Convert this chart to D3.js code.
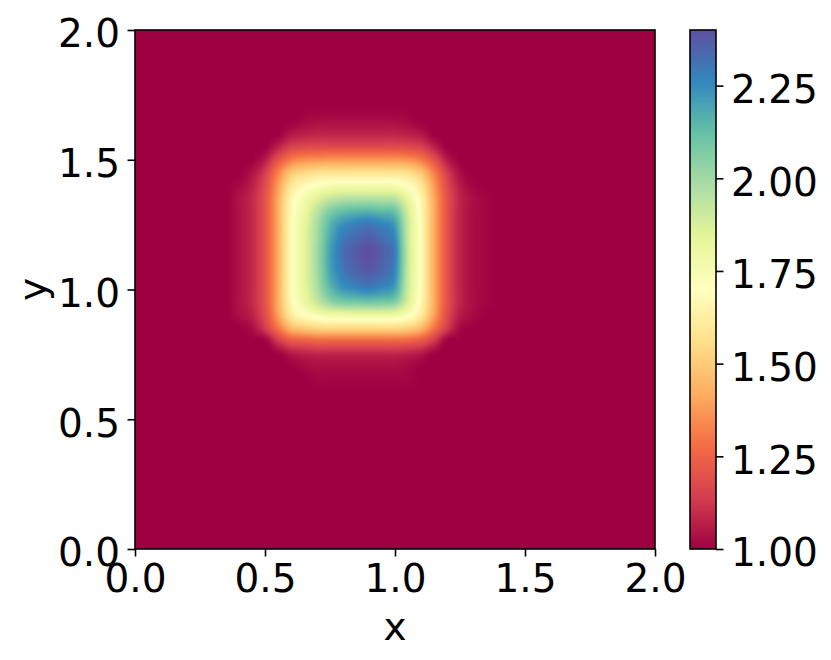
<!DOCTYPE html>
<html><head><meta charset="utf-8">
<script src="https://cdn.jsdelivr.net/npm/d3@7"></script>
<style>body{margin:0;background:#fff} svg text{font-family:"DejaVu Sans";}</style>
</head><body><svg id="chart" width="831" height="660"></svg>
<script>
// grid coordinates (data units) of the sampled field
const xGrid = [0.40,0.45,0.50,0.55,0.60,0.65,0.70,0.75,0.80,0.85,0.90,0.95,1.00,1.05,1.10,1.15,1.20,1.25,1.30,1.35,1.40];
const yGrid = [0.65,0.70,0.75,0.80,0.85,0.90,0.95,1.00,1.05,1.10,1.15,1.20,1.25,1.30,1.35,1.40,1.45,1.50,1.55,1.60,1.65];
// field values, one row per yGrid entry (ascending y), one column per xGrid entry
const values = [
 [1.00,1.00,1.00,1.00,1.00,1.00,1.01,1.01,1.01,1.01,1.01,1.01,1.01,1.01,1.00,1.00,1.00,1.00,1.00,1.00,1.00],
 [1.00,1.00,1.00,1.00,1.00,1.02,1.03,1.03,1.03,1.03,1.03,1.03,1.03,1.02,1.00,1.00,1.00,1.00,1.00,1.00,1.00],
 [1.00,1.00,1.00,1.00,1.05,1.07,1.08,1.08,1.08,1.08,1.08,1.08,1.08,1.07,1.05,1.00,1.00,1.00,1.00,1.00,1.00],
 [1.00,1.00,1.00,1.12,1.21,1.23,1.25,1.25,1.25,1.25,1.25,1.25,1.25,1.24,1.21,1.12,1.00,1.00,1.00,1.00,1.00],
 [1.00,1.03,1.13,1.29,1.44,1.49,1.52,1.53,1.53,1.53,1.53,1.53,1.53,1.51,1.44,1.29,1.13,1.02,1.00,1.00,1.00],
 [1.03,1.07,1.18,1.39,1.60,1.69,1.74,1.77,1.78,1.79,1.79,1.79,1.78,1.72,1.60,1.39,1.18,1.06,1.02,1.00,1.00],
 [1.04,1.09,1.20,1.42,1.66,1.79,1.91,2.02,2.07,2.08,2.09,2.08,2.05,1.86,1.66,1.42,1.20,1.08,1.03,1.01,1.00],
 [1.04,1.09,1.20,1.42,1.68,1.82,1.97,2.13,2.22,2.25,2.27,2.24,2.19,1.90,1.68,1.42,1.20,1.08,1.03,1.01,1.00],
 [1.04,1.09,1.20,1.42,1.68,1.83,1.99,2.18,2.28,2.33,2.35,2.32,2.25,1.91,1.68,1.42,1.20,1.08,1.03,1.01,1.00],
 [1.04,1.09,1.20,1.42,1.68,1.83,2.00,2.20,2.31,2.36,2.39,2.35,2.27,1.92,1.68,1.42,1.20,1.08,1.03,1.01,1.00],
 [1.04,1.09,1.20,1.42,1.68,1.83,2.00,2.20,2.32,2.37,2.40,2.36,2.28,1.92,1.68,1.42,1.20,1.08,1.03,1.01,1.00],
 [1.04,1.09,1.20,1.42,1.68,1.83,1.99,2.18,2.29,2.33,2.36,2.32,2.25,1.91,1.68,1.42,1.20,1.08,1.03,1.01,1.00],
 [1.04,1.09,1.20,1.42,1.68,1.82,1.98,2.15,2.24,2.28,2.30,2.27,2.21,1.91,1.68,1.42,1.20,1.08,1.03,1.01,1.00],
 [1.04,1.09,1.20,1.42,1.67,1.80,1.94,2.07,2.13,2.15,2.16,2.14,2.11,1.88,1.67,1.42,1.20,1.08,1.03,1.01,1.00],
 [1.04,1.09,1.20,1.41,1.65,1.76,1.85,1.92,1.95,1.96,1.96,1.95,1.94,1.81,1.65,1.41,1.20,1.08,1.03,1.01,1.00],
 [1.02,1.07,1.18,1.38,1.59,1.67,1.72,1.75,1.76,1.76,1.76,1.76,1.75,1.70,1.59,1.38,1.18,1.06,1.01,1.00,1.00],
 [1.00,1.04,1.14,1.32,1.48,1.54,1.57,1.58,1.58,1.58,1.58,1.58,1.58,1.56,1.48,1.32,1.14,1.03,1.00,1.00,1.00],
 [1.00,1.00,1.06,1.20,1.31,1.35,1.36,1.37,1.37,1.37,1.37,1.37,1.37,1.36,1.31,1.20,1.06,1.00,1.00,1.00,1.00],
 [1.00,1.00,1.00,1.07,1.15,1.17,1.18,1.18,1.18,1.18,1.18,1.18,1.18,1.17,1.15,1.07,1.00,1.00,1.00,1.00,1.00],
 [1.00,1.00,1.00,1.00,1.05,1.07,1.08,1.08,1.08,1.08,1.08,1.08,1.08,1.07,1.05,1.00,1.00,1.00,1.00,1.00,1.00],
 [1.00,1.00,1.00,1.00,1.00,1.02,1.03,1.03,1.03,1.03,1.03,1.03,1.03,1.02,1.00,1.00,1.00,1.00,1.00,1.00,1.00]
];
const baseValue = 1.00;          // value of the field outside the sampled block
const xDomain = [0, 2];
const yDomain = [0, 2];
const xTicks = [0.0, 0.5, 1.0, 1.5, 2.0];
const yTicks = [0.0, 0.5, 1.0, 1.5, 2.0];
const cbTicks = [1.00, 1.25, 1.50, 1.75, 2.00, 2.25];
const xLabel = "x", yLabel = "y";
const spectral = ["#9e0142","#d53e4f","#f46d43","#fdae61","#fee08b","#ffffbf","#e6f598","#abdda4","#66c2a5","#3288bd","#5e4fa2"];

const FS = 39, SW = 1.6, TS = 7.5, TP = 7.5;
const plot = {left:135, top:30, right:655, bottom:549};
const cb = {left:690, right:716, top:30, bottom:549};

const svg = d3.select("#chart");
const x = d3.scaleLinear().domain(xDomain).range([plot.left, plot.right]);
const y = d3.scaleLinear().domain(yDomain).range([plot.bottom, plot.top]);

const flat = values.flat();
const vmin = Math.min(baseValue, d3.min(flat)), vmax = d3.max(flat);
const color = d3.scaleLinear()
  .domain(spectral.map((_, i) => vmin + i * (vmax - vmin) / (spectral.length - 1)))
  .range(spectral).interpolate(d3.interpolateRgb).clamp(true);

const LUT = d3.range(1024).map(i => d3.rgb(color(vmin + (vmax - vmin) * i / 1023)));
const lut = v => LUT[Math.max(0, Math.min(1023, Math.round((v - vmin) / (vmax - vmin) * 1023)))];

// smooth (bicubic) resampling of the grid for display
const nx = xGrid.length, ny = yGrid.length;
const dxg = xGrid[1] - xGrid[0], dyg = yGrid[1] - yGrid[0];
function cell(i, j) { return (i < 0 || j < 0 || i >= nx || j >= ny) ? baseValue : values[j][i]; }
function cub(p0, p1, p2, p3, t) {
  return p1 + 0.5 * t * (p2 - p0 + t * (2*p0 - 5*p1 + 4*p2 - p3 + t * (3*(p1 - p2) + p3 - p0)));
}
function sample(xv, yv) {
  const fx = (xv - xGrid[0]) / dxg, fy = (yv - yGrid[0]) / dyg;
  const i0 = Math.floor(fx), j0 = Math.floor(fy);
  const tx = fx - i0, ty = fy - j0;
  const r = [];
  for (let k = -1; k <= 2; k++) {
    r.push(cub(cell(i0-1, j0+k), cell(i0, j0+k), cell(i0+1, j0+k), cell(i0+2, j0+k), tx));
  }
  return cub(r[0], r[1], r[2], r[3], ty);
}

const pw = plot.right - plot.left, ph = plot.bottom - plot.top;
const cv = document.createElement("canvas"); cv.width = pw; cv.height = ph;
const ctx = cv.getContext("2d");
const img = ctx.createImageData(pw, ph);
for (let j = 0; j < ph; j++) {
  const yv = y.invert(plot.top + j + 0.5);
  for (let i = 0; i < pw; i++) {
    const xv = x.invert(plot.left + i + 0.5);
    const c = lut(sample(xv, yv));
    const k = (j * pw + i) * 4;
    img.data[k] = c.r; img.data[k+1] = c.g; img.data[k+2] = c.b; img.data[k+3] = 255;
  }
}
ctx.putImageData(img, 0, 0);
svg.append("image").attr("x", plot.left).attr("y", plot.top).attr("width", pw).attr("height", ph)
  .attr("preserveAspectRatio", "none").attr("href", cv.toDataURL());

// axes
const gx = svg.append("g").attr("transform", `translate(0,${plot.bottom})`)
  .call(d3.axisBottom(x).tickValues(xTicks).tickFormat(d3.format(".1f")).tickSize(TS).tickPadding(TP));
const gy = svg.append("g").attr("transform", `translate(${plot.left},0)`)
  .call(d3.axisLeft(y).tickValues(yTicks).tickFormat(d3.format(".1f")).tickSize(TS).tickPadding(TP));
[gx, gy].forEach(g => {
  g.select(".domain").remove();
  g.selectAll("line").attr("stroke", "#000").attr("stroke-width", SW);
  g.selectAll("text").attr("font-size", FS).attr("font-family", "DejaVu Sans").attr("fill", "#000");
});
gy.selectAll("text").attr("dy", "0.43em");
svg.append("rect").attr("x", plot.left).attr("y", plot.top).attr("width", pw).attr("height", ph)
  .attr("fill", "none").attr("stroke", "#000").attr("stroke-width", SW);

svg.append("text").attr("x", (plot.left + plot.right) / 2).attr("y", 640).attr("text-anchor", "middle")
  .attr("font-size", FS).text(xLabel);
svg.append("text").attr("transform", `translate(46,${(plot.top + plot.bottom) / 2}) rotate(-90)`)
  .attr("text-anchor", "middle").attr("font-size", FS).text(yLabel);

// colorbar
const cby = d3.scaleLinear().domain([vmin, vmax]).range([cb.bottom, cb.top]);
const ch = cb.bottom - cb.top, cw = cb.right - cb.left;
const cc = document.createElement("canvas"); cc.width = 1; cc.height = ch;
const cctx = cc.getContext("2d");
for (let j = 0; j < ch; j++) {
  const c = lut(cby.invert(cb.top + j + 0.5));
  cctx.fillStyle = `rgb(${c.r},${c.g},${c.b})`; cctx.fillRect(0, j, 1, 1);
}
svg.append("image").attr("x", cb.left).attr("y", cb.top).attr("width", cw).attr("height", ch)
  .attr("preserveAspectRatio", "none").attr("href", cc.toDataURL());
svg.append("rect").attr("x", cb.left).attr("y", cb.top).attr("width", cw).attr("height", ch)
  .attr("fill", "none").attr("stroke", "#000").attr("stroke-width", SW);
const gc = svg.append("g").attr("transform", `translate(${cb.right},0)`)
  .call(d3.axisRight(cby).tickValues(cbTicks).tickFormat(d3.format(".2f")).tickSize(TS).tickPadding(TP));
gc.select(".domain").remove();
gc.selectAll("line").attr("stroke", "#000").attr("stroke-width", SW);
gc.selectAll("text").attr("font-size", FS).attr("font-family", "DejaVu Sans").attr("fill", "#000").attr("dy", "0.43em");
</script></body></html>
